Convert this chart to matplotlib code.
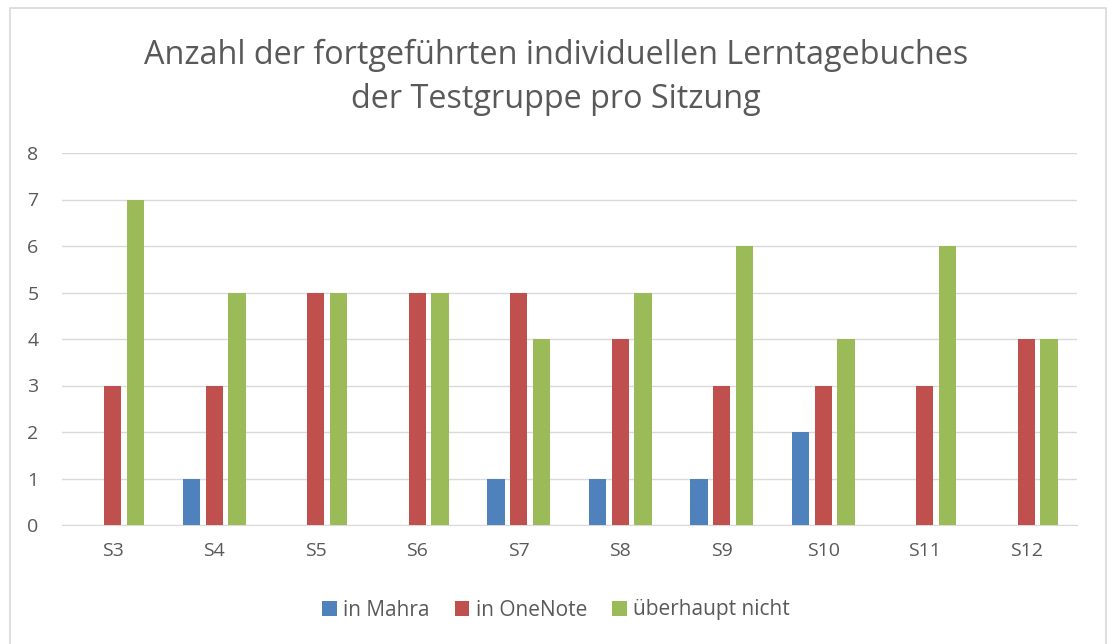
import matplotlib
matplotlib.use("Agg")
import matplotlib.pyplot as plt
import numpy as np
from matplotlib.patches import Rectangle

categories = ["S3", "S4", "S5", "S6", "S7", "S8", "S9", "S10", "S11", "S12"]
mahra = [0, 1, 0, 0, 1, 1, 1, 2, 0, 0]
onenote = [3, 3, 5, 5, 5, 4, 3, 3, 3, 4]
nicht = [7, 5, 5, 5, 4, 5, 6, 4, 6, 4]
series_names = ["in Mahra", "in OneNote", "überhaupt nicht"]
title_lines = ["Anzahl der fortgeführten individuellen Lerntagebuches",
               "der Testgruppe pro Sitzung"]
colors = ["#4F81BD", "#C0504D", "#9BBB59"]

plt.rcParams['font.family'] = ['Open Sans', 'DejaVu Sans']

W, H = 1112, 644
fig = plt.figure(figsize=(W / 100, H / 100), dpi=100)
fig.patches.append(Rectangle((10 / W, -0.01), (1106 - 10) / W, 1 - 8 / H + 0.01,
                             transform=fig.transFigure, fill=False,
                             edgecolor="#D9D9D9", linewidth=1.2))
ax = fig.add_axes([62 / W, 1 - 525 / H, (1077 - 62) / W, (525 - 153) / H])

x = np.arange(len(categories))
w = 0.17
off = 0.225
for i, (vals, c, n) in enumerate(zip([mahra, onenote, nicht], colors, series_names)):
    ax.bar(x + (i - 1) * off, vals, width=w, color=c, label=n, zorder=3)

ax.set_xlim(-0.5, len(categories) - 0.5)
ax.set_ylim(0, 8)
ax.set_yticks(range(0, 9))
ax.yaxis.grid(True, color="#D9D9D9", linewidth=1, zorder=0)
ax.set_xticks(x)
ax.set_xticklabels(categories)
for s in ["top", "right", "left"]:
    ax.spines[s].set_visible(False)
ax.spines["bottom"].set_color("#D9D9D9")
ax.tick_params(axis="both", length=0, labelsize=14, colors="#595959")
ax.tick_params(axis="x", pad=12)
ax.tick_params(axis="y", pad=17)

for yy, line in zip([55, 100], title_lines):
    fig.text(0.5, 1 - yy / H, line, ha="center", va="center",
             fontsize=23.3, color="#595959")

leg = fig.legend(loc="center", bbox_to_anchor=(0.5, 1 - 610 / H), ncol=3, frameon=False,
                 fontsize=15, handlelength=0.7, handleheight=0.7, columnspacing=1.2,
                 handletextpad=0.3, labelcolor="#595959")

fig.savefig("out.png", dpi=100)
